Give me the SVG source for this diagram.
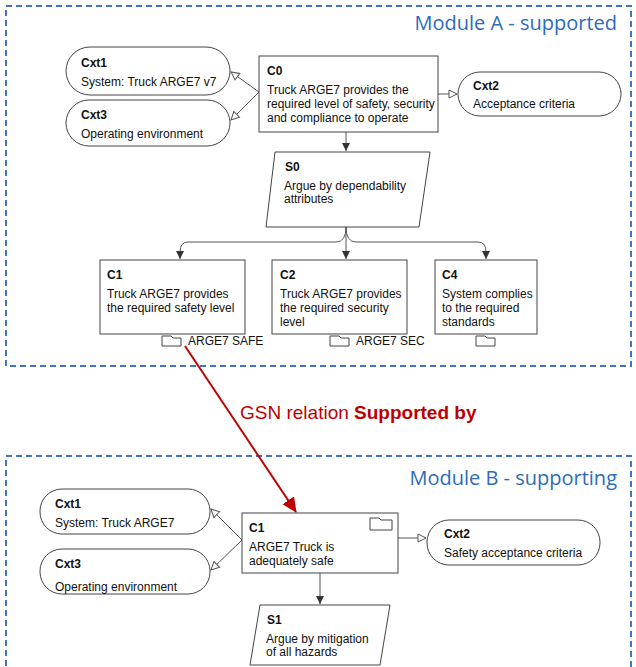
<svg xmlns="http://www.w3.org/2000/svg" width="636" height="667" viewBox="0 0 636 667">
<style>
text{font-family:"Liberation Sans",Arial,sans-serif;font-size:12px;fill:#111}
.b{font-weight:bold}
.n{fill:#fff;stroke:#444;stroke-width:1}
.mod{fill:none;stroke:#4472c4;stroke-width:2;stroke-dasharray:6,4}
.t{font-family:"Open Sans","Liberation Sans",sans-serif;font-size:20px;fill:#2e6bb8}
.c{fill:none;stroke:#555;stroke-width:1}
</style>
<defs>
<marker id="h" markerWidth="10" markerHeight="10" refX="9" refY="5" orient="auto" markerUnits="userSpaceOnUse"><path d="M1,1 L9,5 L1,9 Z" fill="#fff" stroke="#555"/></marker>
<marker id="f" markerWidth="10" markerHeight="10" refX="9" refY="5" orient="auto" markerUnits="userSpaceOnUse"><path d="M1,1 L9,5 L1,9 Z" fill="#333"/></marker>
<marker id="r" markerWidth="16" markerHeight="14" refX="14" refY="7" orient="auto" markerUnits="userSpaceOnUse"><path d="M0,0 L15,7 L0,14 Z" fill="#c00000"/></marker>
</defs>
<rect class="mod" x="6" y="6" width="625" height="360"/>
<text class="t" x="617" y="30" text-anchor="end">Module A - supported</text>
<rect class="mod" x="6" y="456" width="625" height="215"/>
<text class="t" x="617" y="485" text-anchor="end">Module B - supporting</text>

<g id="connectors">
<path class="c" d="M259,92 L231,72" marker-end="url(#h)"/>
<path class="c" d="M259,92 L231,120" marker-end="url(#h)"/>
<path class="c" d="M438,94 L457,94" marker-end="url(#h)"/>
<path class="c" d="M346,132 L346,151" marker-end="url(#f)"/>
<path class="c" d="M346,227 L346,259" marker-end="url(#f)"/>
<path class="c" d="M346,227 Q346,242 336,242 L188,242 Q180,242 180,252 L180,259" marker-end="url(#f)"/>
<path class="c" d="M346,227 Q346,242 356,242 L478,242 Q486,242 486,252 L486,259" marker-end="url(#f)"/>
<path class="c" d="M242,540 L211,509" marker-end="url(#h)"/>
<path class="c" d="M242,540 L211,570" marker-end="url(#h)"/>
<path class="c" d="M398,538 L426,538" marker-end="url(#h)"/>
<path class="c" d="M320,573 L320,604" marker-end="url(#f)"/>
<path d="M185,346 L296,512" stroke="#c00000" stroke-width="2" fill="none" marker-end="url(#r)"/>
</g>
<text x="240" y="419" style="font-size:19px;fill:#c00000">GSN relation <tspan class="b" style="fill:#c00000">Supported by</tspan></text>

<g id="A-Cxt1"><rect class="n" x="66" y="47" width="164" height="48" rx="24"/><text class="b" x="81" y="67">Cxt1</text><text x="81" y="86">System: Truck ARGE7 v7</text></g>
<g id="A-Cxt3"><rect class="n" x="66" y="100" width="164" height="46" rx="23"/><text class="b" x="81" y="119">Cxt3</text><text x="81" y="138">Operating environment</text></g>
<g id="A-C0"><rect class="n" x="259" y="56" width="179" height="76"/><text class="b" x="267" y="75">C0</text><text x="267" y="94">Truck ARGE7 provides the</text><text x="267" y="108">required level of safety, security</text><text x="267" y="122">and compliance to operate</text></g>
<g id="A-Cxt2"><rect class="n" x="458" y="72" width="163" height="44" rx="22"/><text class="b" x="473" y="90">Cxt2</text><text x="473" y="108">Acceptance criteria</text></g>
<g id="A-S0"><path class="n" d="M275,152 L430,152 L419,227 L266,227 Z"/><text class="b" x="285" y="171">S0</text><text x="284" y="190">Argue by dependability</text><text x="284" y="203">attributes</text></g>
<g id="A-C1"><rect class="n" x="100" y="260" width="145" height="74"/><text class="b" x="107" y="279">C1</text><text x="107" y="298">Truck ARGE7 provides</text><text x="107" y="312">the required safety level</text><path class="n" d="M162,336 h9 l2,2 h8 v8 h-19 Z"/><text x="188" y="345">ARGE7 SAFE</text></g>
<g id="A-C2"><rect class="n" x="272" y="260" width="135" height="74"/><text class="b" x="280" y="279">C2</text><text x="280" y="298">Truck ARGE7 provides</text><text x="280" y="312">the required security</text><text x="280" y="326">level</text><path class="n" d="M330,336 h9 l2,2 h8 v8 h-19 Z"/><text x="356" y="345">ARGE7 SEC</text></g>
<g id="A-C4"><rect class="n" x="435" y="260" width="102" height="74"/><text class="b" x="442" y="279">C4</text><text x="442" y="298">System complies</text><text x="442" y="312">to the required</text><text x="442" y="326">standards</text><path class="n" d="M476,336 h9 l2,2 h8 v8 h-19 Z"/></g>

<g id="B-Cxt1"><rect class="n" x="40" y="489" width="170" height="45" rx="22"/><text class="b" x="55" y="508">Cxt1</text><text x="55" y="527">System: Truck ARGE7</text></g>
<g id="B-Cxt3"><rect class="n" x="40" y="549" width="170" height="45" rx="22"/><text class="b" x="55" y="568">Cxt3</text><text x="55" y="591">Operating environment</text></g>
<g id="B-C1"><rect class="n" x="242" y="513" width="156" height="60"/><text class="b" x="249" y="532">C1</text><text x="249" y="551">ARGE7 Truck is</text><text x="249" y="565">adequately safe</text><path class="n" d="M370,518 h9 l2,2 h11 v10 h-22 Z"/></g>
<g id="B-Cxt2"><rect class="n" x="427" y="520" width="173" height="45" rx="22"/><text class="b" x="444" y="538">Cxt2</text><text x="444" y="557">Safety acceptance criteria</text></g>
<g id="B-S1"><path class="n" d="M260,605 L390,605 L380,665 L250,665 Z"/><text class="b" x="267" y="624">S1</text><text x="266" y="643">Argue by mitigation</text><text x="266" y="656">of all hazards</text></g>
</svg>
